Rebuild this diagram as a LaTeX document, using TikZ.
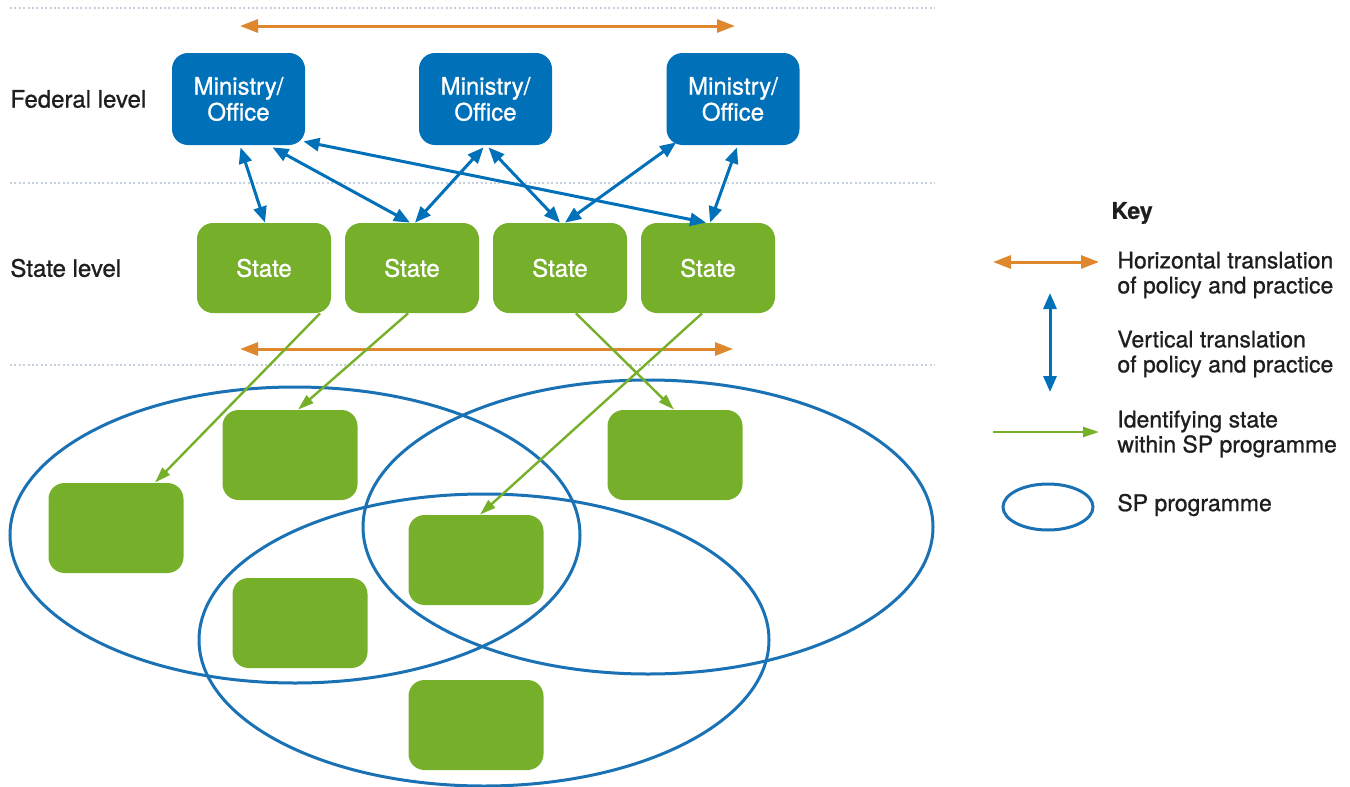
\documentclass[tikz,border=0pt]{standalone}
\usepackage{fontspec}
\setmainfont{TeX Gyre Heros}[FakeBold=0.9]
\usetikzlibrary{arrows.meta,calc}

\definecolor{fedblue}{HTML}{0070B8}
\definecolor{stgreen}{HTML}{76B02A}
\definecolor{horange}{HTML}{DE872C}
\definecolor{ringblue}{HTML}{1A72B4}
\definecolor{dotgrey}{HTML}{C5D0DE}
\definecolor{ink}{HTML}{1E1E1E}

\tikzset{
  fedbox/.style={rectangle, rounded corners=8pt, fill=fedblue, text=white,
    minimum width=66.5pt, minimum height=46pt, inner sep=0pt, align=center,
    font=\fontsize{12}{13}\selectfont},
  statebox/.style={rectangle, rounded corners=8pt, fill=stgreen, text=white,
    minimum width=67pt, minimum height=45pt, inner sep=0pt,
    font=\fontsize{12}{13}\selectfont},
  memberbox/.style={rectangle, rounded corners=8pt, fill=stgreen,
    minimum width=67.5pt, minimum height=45pt, inner sep=0pt},
  levellabel/.style={anchor=west, text=ink, inner sep=0pt,
    font=\fontsize{12}{13}\selectfont},
  keytext/.style={anchor=west, text=ink, inner sep=0pt, align=left,
    font=\fontsize{11.5}{12.5}\selectfont},
  horiz/.style={draw=horange, line width=1.5pt,
    {Triangle[length=9pt,width=6.5pt]}-{Triangle[length=9pt,width=6.5pt]}},
  vert/.style={draw=fedblue, line width=1.5pt,
    {Triangle[length=8pt,width=6.5pt]}-{Triangle[length=8pt,width=6.5pt]}},
  ident/.style={draw=stgreen, line width=1.2pt,
    -{Triangle[length=8pt,width=5pt]}},
  ring/.style={draw=ringblue, line width=1.5pt},
  divider/.style={draw=dotgrey, line width=1pt, dash pattern=on 1pt off 1.2pt}
}

\begin{document}
\begin{tikzpicture}[x=0.5pt,y=-0.5pt]
\useasboundingbox (0,0) rectangle (1350,787);

% level dividers
\draw[divider] (10,8) -- (935,8);
\draw[divider] (10,183) -- (935,183);
\draw[divider] (10,365) -- (935,365);

% level labels
\node[levellabel] (fedlabel) at (10,99) {Federal level};
\node[levellabel] (statelabel) at (10,268) {State level};

% SP programmes
\draw[ring] (295,535) ellipse [x radius=285, y radius=148];
\draw[ring] (648,527) ellipse [x radius=285, y radius=147];
\draw[ring] (484,640) ellipse [x radius=285, y radius=146];

% federal ministries
\node[fedbox] (m1) at (238.5,99) {Ministry/\\Office};
\node[fedbox] (m2) at (485.5,99) {Ministry/\\Office};
\node[fedbox] (m3) at (733,99) {Ministry/\\Office};

% states
\node[statebox] (s1) at (264,268) {State};
\node[statebox] (s2) at (412,268) {State};
\node[statebox] (s3) at (560,268) {State};
\node[statebox] (s4) at (708,268) {State};

% states inside programmes
\node[memberbox] (pa) at (116,528) {};
\node[memberbox] (pb) at (290,455) {};
\node[memberbox] (pc) at (675,455) {};
\node[memberbox] (pd) at (476,560) {};
\node[memberbox] (pe) at (300,623) {};
\node[memberbox] (pf) at (476,725) {};

% horizontal translation
\coordinate (htl) at (240,26);
\coordinate (htr) at (735,26);
\coordinate (hbl) at (240,349);
\coordinate (hbr) at (733,349);
\draw[horiz] (htl) -- (htr);
\draw[horiz] (hbl) -- (hbr);

% vertical translation
\draw[vert] ($(m1.south)+(2,2)$) -- ($(s1.north)+(1,0)$);
\draw[vert] ($(m1.south)+(34,2)$) -- ($(s2.north)+(-2,0)$);
\draw[vert] ($(m1.south east)+(-2,-4)$) -- ($(s4.north)+(-2,0)$);
\draw[vert] ($(m2.south)+(-2,2)$) -- ($(s2.north)+(3,0)$);
\draw[vert] ($(m2.south)+(3,2)$) -- ($(s3.north)+(0,0)$);
\draw[vert] ($(m3.south west)+(10,-3)$) -- ($(s3.north)+(5,0)$);
\draw[vert] ($(m3.south)+(4,2)$) -- ($(s4.north)+(2,0)$);

% identifying states within programmes
\draw[ident] ($(s1.south)+(56,0)$) -- ($(pa.north)+(39,0)$);
\draw[ident] ($(s2.south)+(-4,0)$) -- ($(pb.north)+(8,0)$);
\draw[ident] ($(s3.south)+(16,0)$) -- ($(pc.north)+(-1,0)$);
\draw[ident] ($(s4.south)+(-6,0)$) -- ($(pd.north)+(4,0)$);

% key
\node[keytext, font=\fontsize{11.5}{12.5}\selectfont\bfseries] (keytitle) at (1111,213) {Key};
\coordinate (khl) at (993,262);
\coordinate (khr) at (1099,262);
\draw[horiz] (khl) -- (khr);
\node[keytext] (khtext) at (1117,275) {Horizontal translation\\of policy and practice};
\coordinate (kvt) at (1050,293);
\coordinate (kvb) at (1050,392);
\draw[vert] (kvt) -- (kvb);
\node[keytext] (kvtext) at (1117,354) {Vertical translation\\of policy and practice};
\coordinate (kil) at (993,432);
\coordinate (kir) at (1099,432);
\draw[ident] (kil) -- (kir);
\node[keytext] (kitext) at (1117,434) {Identifying state\\within SP programme};
\draw[ring] (1048,507) ellipse [x radius=45, y radius=23];
\node[keytext] (kptext) at (1117,505) {SP programme};
\end{tikzpicture}
\end{document}
